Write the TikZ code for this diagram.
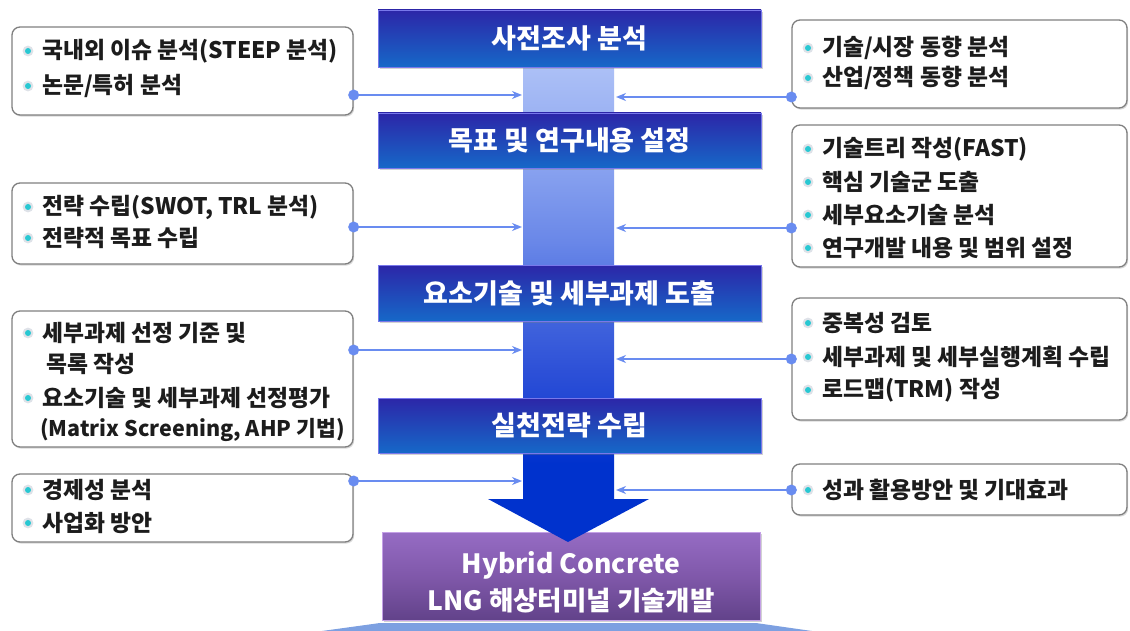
\documentclass[tikz,border=0pt]{standalone}
\usepackage{fontspec}
\setmainfont{Noto Sans CJK KR}
\usetikzlibrary{arrows.meta,shadows,calc}

\definecolor{boxline}{RGB}{128,128,128}
\definecolor{itemtext}{RGB}{28,28,28}
\definecolor{connblue}{RGB}{105,140,240}
\definecolor{ringgray}{RGB}{222,226,232}
\definecolor{bulletcore}{RGB}{40,200,210}
\definecolor{titletop}{RGB}{44,38,168}
\definecolor{titlebot}{RGB}{22,104,200}
\definecolor{titlehi}{RGB}{120,120,235}
\definecolor{purptop}{RGB}{150,108,196}
\definecolor{purpmid}{RGB}{128,88,170}
\definecolor{purpbot}{RGB}{98,66,138}
\definecolor{purphi}{RGB}{196,160,230}
\definecolor{baseblue}{RGB}{125,160,225}
% column colours, top to bottom
\definecolor{bandA}{RGB}{172,192,246}
\definecolor{bandB}{RGB}{140,165,240}
\definecolor{bandC}{RGB}{105,135,232}
\definecolor{bandD}{RGB}{70,105,222}
\definecolor{bandE}{RGB}{45,80,215}
\definecolor{bandF}{RGB}{20,60,210}
\definecolor{bandG}{RGB}{0,50,205}

% the path's bounding box spans 25bp..75bp of this shading
\pgfdeclareverticalshading{bandshade}{100bp}{%
  color(0bp)=(bandG); color(29bp)=(bandG); color(32bp)=(bandF);
  color(39bp)=(bandE); color(46bp)=(bandD); color(53bp)=(bandC);
  color(62bp)=(bandB); color(72bp)=(bandA); color(100bp)=(bandA)}

\newcommand{\itembullet}[2]{%
  \fill[ringgray] (#1,#2) circle (5.4);
  \fill[bulletcore] (#1,#2) circle (3);}

\tikzset{
  listbox/.style={draw=boxline, line width=1.3pt, rounded corners=8pt, fill=white,
    drop shadow={shadow xshift=1.2pt, shadow yshift=-1.6pt, opacity=0.3}},
  titlebox/.style={top color=titletop, bottom color=titlebot, draw=titlehi, line width=0.8pt,
    text=white, font=\bfseries\fontsize{27}{27}\selectfont,
    drop shadow={shadow xshift=1.5pt, shadow yshift=-2pt, opacity=0.35}},
  goalbox/.style={top color=purptop, bottom color=purpbot, middle color=purpmid,
    draw=purphi, line width=0.8pt,
    drop shadow={shadow xshift=1.5pt, shadow yshift=-2pt, opacity=0.35}},
  goaltext/.style={text=white, align=center, inner sep=0pt,
    font=\bfseries\fontsize{26.5}{37}\selectfont},
  item/.style={anchor=west, inner sep=0pt, text=itemtext,
    font=\bfseries\fontsize{22.8}{22.8}\selectfont},
  itemnarrow/.style={item, font=\bfseries\fontsize{21.5}{21.5}\selectfont},
  conn/.style={draw=connblue, line width=2.4pt, -{Stealth[length=10pt,width=8pt]}},
  enddot/.style={fill=connblue},
}

\begin{document}
\begin{tikzpicture}[x=1pt,y=-1pt]
\useasboundingbox (0,0) rectangle (1130,631);
\fill[white] (0,0) rectangle (1130,631);

% base plate under the goal box
\fill[baseblue] (380,623) -- (756,623) -- (812,631) -- (322,631) -- cycle;

% left item boxes
\node[listbox, minimum width=341pt, minimum height=88pt]  (L1) at (182.5,71) {};
\node[listbox, minimum width=341pt, minimum height=81pt]  (L2) at (182.5,223.5) {};
\node[listbox, minimum width=341pt, minimum height=136pt] (L3) at (182.5,379) {};
\node[listbox, minimum width=341pt, minimum height=68pt]  (L4) at (182.5,508) {};
% right item boxes
\node[listbox, minimum width=335pt, minimum height=88pt]  (R1) at (959.5,64) {};
\node[listbox, minimum width=335pt, minimum height=142pt] (R2) at (959.5,196) {};
\node[listbox, minimum width=335pt, minimum height=122pt] (R3) at (959.5,359) {};
\node[listbox, minimum width=335pt, minimum height=51pt]  (R4) at (959.5,489.5) {};

% items, left
\itembullet{28}{51}  \node[item] (L1a) at (42,51) {국내외 이슈 분석(STEEP 분석)};
\itembullet{28}{86}  \node[item] (L1b) at (42,86) {논문/특허 분석};
\itembullet{28}{207} \node[item] (L2a) at (42,207) {전략 수립(SWOT, TRL 분석)};
\itembullet{28}{238} \node[item] (L2b) at (42,238) {전략적 목표 수립};
\itembullet{28}{333} \node[item] (L3a) at (42,333) {세부과제 선정 기준 및};
                     \node[item] (L3b) at (46,364) {목록 작성};
\itembullet{28}{398} \node[item] (L3c) at (42,398) {요소기술 및 세부과제 선정평가};
                     \node[itemnarrow] (L3d) at (40,430) {(Matrix Screening, AHP 기법)};
\itembullet{28}{490} \node[item] (L4a) at (42,490) {경제성 분석};
\itembullet{28}{523} \node[item] (L4b) at (42,523) {사업화 방안};
% items, right
\itembullet{808}{48}  \node[item] (R1a) at (822,48) {기술/시장 동향 분석};
\itembullet{808}{78}  \node[item] (R1b) at (822,78) {산업/정책 동향 분석};
\itembullet{808}{149} \node[item] (R2a) at (822,149) {기술트리 작성(FAST)};
\itembullet{808}{182} \node[item] (R2b) at (822,182) {핵심 기술군 도출};
\itembullet{808}{215} \node[item] (R2c) at (822,215) {세부요소기술 분석};
\itembullet{808}{248} \node[item] (R2d) at (822,248) {연구개발 내용 및 범위 설정};
\itembullet{808}{323} \node[item] (R3a) at (822,323) {중복성 검토};
\itembullet{808}{357} \node[item] (R3b) at (822,357) {세부과제 및 세부실행계획 수립};
\itembullet{808}{390} \node[item] (R3c) at (822,390) {로드맵(TRM) 작성};
\itembullet{808}{490} \node[item] (R4a) at (822,490) {성과 활용방안 및 기대효과};

% central flow column
\shade[shading=bandshade] (523,40) -- (614,40) -- (614,500) -- (523,500) -- cycle;

% goal box
\node[goalbox, minimum width=378pt, minimum height=88pt] (G) at (571,576) {};
\node[goaltext] (Gt) at (571,582) {Hybrid Concrete\\LNG 해상터미널 기술개발};

% arrow head of the column, over the goal box
\fill[bandG] (523,499) -- (488,499) -- (568,542) -- (649,499) -- (614,499) -- cycle;

% stage boxes
\node[titlebox, minimum width=383pt, minimum height=57pt] (T1) at (569.5,38.5) {사전조사 분석};
\node[titlebox, minimum width=383pt, minimum height=55pt] (T2) at (569.5,140.5) {목표 및 연구내용 설정};
\node[titlebox, minimum width=383pt, minimum height=56pt] (T3) at (569.5,293) {요소기술 및 세부과제 도출};
\node[titlebox, minimum width=383pt, minimum height=55pt] (T4) at (569.5,425.5) {실천전략 수립};

% connector end points on the column
\coordinate (cl1) at (522,95);   \coordinate (cr1) at (616,97);
\coordinate (cl2) at (522,227);  \coordinate (cr2) at (616,228);
\coordinate (cl3) at (522,350);  \coordinate (cr3) at (616,359);
\coordinate (cl4) at (522,481);  \coordinate (cr4) at (616,490);

% connectors
\foreach \b/\y/\e in {L1/95/cl1, L2/227/cl2, L3/350/cl3, L4/481/cl4}{
  \coordinate (s\b) at (\b.east |- 0,\y);
  \draw[conn] (s\b) -- (\e);
  \fill[enddot] (s\b) circle (5.5);
}
\foreach \b/\y/\e in {R1/97/cr1, R2/228/cr2, R3/359/cr3, R4/490/cr4}{
  \coordinate (s\b) at (\b.west |- 0,\y);
  \draw[conn] (s\b) -- (\e);
  \fill[enddot] (s\b) circle (5.5);
}
\end{tikzpicture}
\end{document}
